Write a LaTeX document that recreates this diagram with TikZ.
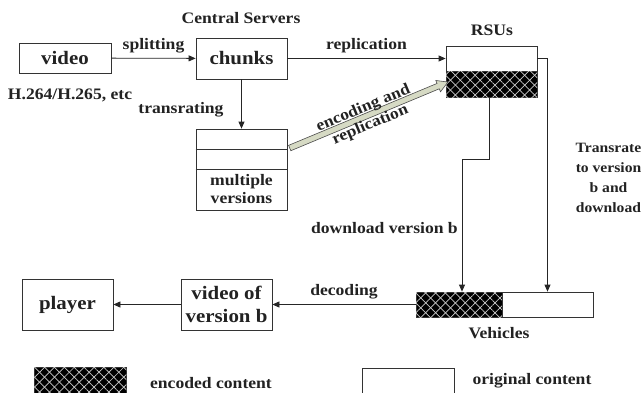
\documentclass[tikz,border=0pt]{standalone}
\usepackage{fontspec}
\setmainfont[FakeStretch=1.1]{Liberation Serif}
\usetikzlibrary{arrows.meta,patterns.meta,shapes.arrows,calc}
\definecolor{gfill}{HTML}{D6DAC4}
\definecolor{ink}{HTML}{222222}
\begin{document}
\begin{tikzpicture}[x=1pt,y=-1pt,
  box/.style={draw=black!80, line width=0.8pt, inner sep=0pt, text=ink},
  big/.style={font=\fontsize{19}{24}\selectfont\bfseries, align=center, text=ink},
  small/.style={font=\fontsize{16}{18}\selectfont\bfseries, align=center, text=ink, inner sep=0pt},
  smaller/.style={font=\fontsize{14.2}{20}\selectfont\bfseries, align=center, text=ink, inner sep=0pt},
  conn/.style={draw=black!85, line width=0.8pt},
  arr/.style={conn, -{Triangle[length=7pt,width=6pt]}},
  hatch/.style={box, fill=black,
    postaction={pattern={Lines[angle=45,distance=7pt,line width=0.7pt]}, pattern color=white!80!black},
    postaction={pattern={Lines[angle=-45,distance=7pt,line width=0.7pt]}, pattern color=white!80!black}}
]
\useasboundingbox (0,0) rectangle (643,392);
\fill[white] (0,0) rectangle (643,392);

% top row
\node[box, big, minimum width=92pt, minimum height=30pt] (video) at (65,58) {video};
\node[box, big, minimum width=91pt, minimum height=41pt] (chunks) at (241.5,58.5) {chunks};
\node[small] (cs) at (241,18) {Central Servers};
\node[small] (h264) at (70,95) {H.264/H.265, etc};

% multiple versions
\node[box, minimum width=91pt, minimum height=81pt] (mv) at (241.5,169.5) {};
\draw[conn, draw=black!80] (mv.west |- 0,149) -- (mv.east |- 0,149);
\draw[conn, draw=black!80] (mv.west |- 0,169) -- (mv.east |- 0,169);
\node[small] (mvt) at (241.5,189) {multiple\\versions};

% RSUs
\node[box, minimum width=91pt, minimum height=25pt] (rsutop) at (491.5,58.5) {};
\node[hatch, minimum width=91pt, minimum height=26pt] (rsubot) at (491.5,84) {};
\node[small] (rsul) at (492,30) {RSUs};

% Vehicles
\node[hatch, minimum width=86pt, minimum height=25pt] (vhl) at (459,304.5) {};
\node[box, minimum width=91pt, minimum height=25pt] (vhr) at (547.5,304.5) {};
\node[small] (vehl) at (499,333) {Vehicles};

% bottom left
\node[box, big, minimum width=91pt, minimum height=51pt] (vob) at (226.5,304.5) {video of\\[-1pt]version b};
\node[box, big, minimum width=91pt, minimum height=51pt] (player) at (67.5,304.5) {player};

% connectors
\draw[arr] (video) -- node[small, above=5pt] (lsplit) {splitting} (chunks);
\draw[arr] (chunks) -- node[small, above=5pt] (lrep) {replication} (rsutop);
\draw[arr] (chunks) -- (mv);
\node[small] (ltr) at (181,110) {transrating};

\coordinate (gA) at (mv.east |- 0,149);
\coordinate (gB) at (rsubot.west |- 0,83);
\path let \p1=($(gB)-(gA)$), \n1={veclen(\x1,\y1)} in
  (gA) -- (gB) node[midway, sloped, single arrow, draw=black!70, fill=gfill, line width=0.6pt,
     minimum height=\n1, minimum width=0pt, single arrow head extend=3.2pt,
     single arrow tip angle=60, inner xsep=0pt, inner ysep=2.6pt] (garrow) {};
\path (gA) -- (gB) node[midway, sloped, small, yshift=-1pt] (lenc) {encoding and\\replication};

\coordinate (k1) at (462,159);
\draw[arr] ($(rsubot.south)+(-2.5,0)$) |- (k1) -- (k1 |- vhl.north);
\draw[arr] (rsutop.east) -| (vhr.north);
\node[small, anchor=east] (ldl) at (458,228) {download version b};
\node[smaller] (ltrans) at (608.5,178) {Transrate\\to version\\b and\\download};

\draw[arr] (vhl) -- node[small, above=5pt] (ldec) {decoding} (vob);
\draw[arr] (vob) -- (player);

% legend
\node[hatch, minimum width=92pt, minimum height=30pt, anchor=north west] (leg1) at (34,367) {};
\node[small] (leg1t) at (211,383) {encoded content};
\node[box, minimum width=92pt, minimum height=30pt, anchor=north west] (leg2) at (362,368) {};
\node[small] (leg2t) at (532,381) {original content};
\end{tikzpicture}
\end{document}
